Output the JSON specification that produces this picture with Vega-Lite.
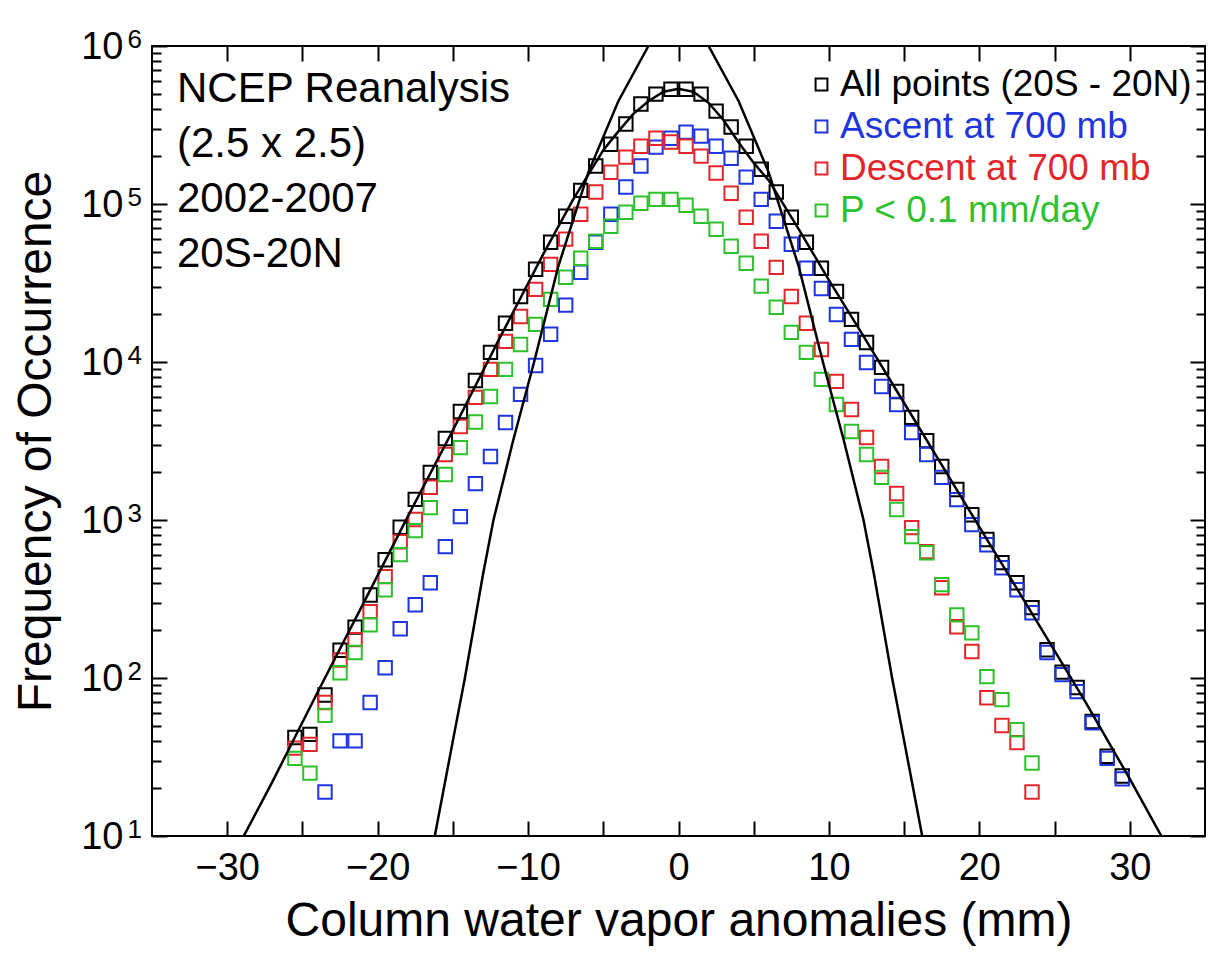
{
"$schema": "https://vega.github.io/schema/vega-lite/v6.json",
"width": 1053, "height": 790,
"autosize": {"type": "none"},
"padding": {"left": 152, "top": 46, "right": 8, "bottom": 120},
"background": "white",
"config": {
  "font": "Liberation Sans",
  "view": {"stroke": "black", "strokeWidth": 2},
  "axis": {"grid": false, "domain": false, "tickColor": "black", "tickWidth": 2, "labelColor": "black", "titleColor": "black", "labelFont": "Liberation Sans", "titleFont": "Liberation Sans", "titleFontWeight": "normal", "labelOverlap": false, "labelFlush": false},
  "legend": {"title": null, "symbolType": "square", "symbolSize": 140, "symbolStrokeWidth": 2, "labelFontSize": 37, "labelFont": "Liberation Sans", "rowPadding": 4, "labelOffset": 0, "padding": 0, "labelLimit": 0}
},
"title": {"text": ["NCEP Reanalysis", "(2.5 x 2.5)", "2002-2007", "20S-20N"], "anchor": "start", "frame": "group", "orient": "top", "baseline": "top", "fontSize": 42, "fontWeight": "normal", "lineHeight": 55, "dx": 25, "dy": 250, "offset": 0, "color": "black", "font": "Liberation Sans"},
"datasets": {
"pts": [
{"x":-25.5,"n":42,"s":"All points (20S - 20N)"},{"x":-24.5,"n":44,"s":"All points (20S - 20N)"},{"x":-23.5,"n":78,"s":"All points (20S - 20N)"},{"x":-22.5,"n":150,"s":"All points (20S - 20N)"},{"x":-21.5,"n":210,"s":"All points (20S - 20N)"},{"x":-20.5,"n":335,"s":"All points (20S - 20N)"},{"x":-19.5,"n":560,"s":"All points (20S - 20N)"},{"x":-18.5,"n":900,"s":"All points (20S - 20N)"},{"x":-17.5,"n":1350,"s":"All points (20S - 20N)"},{"x":-16.5,"n":2000,"s":"All points (20S - 20N)"},{"x":-15.5,"n":3280,"s":"All points (20S - 20N)"},{"x":-14.5,"n":4860,"s":"All points (20S - 20N)"},{"x":-13.5,"n":7640,"s":"All points (20S - 20N)"},{"x":-12.5,"n":11500,"s":"All points (20S - 20N)"},{"x":-11.5,"n":17600,"s":"All points (20S - 20N)"},{"x":-10.5,"n":26000,"s":"All points (20S - 20N)"},{"x":-9.5,"n":38600,"s":"All points (20S - 20N)"},{"x":-8.5,"n":57300,"s":"All points (20S - 20N)"},{"x":-7.5,"n":83700,"s":"All points (20S - 20N)"},{"x":-6.5,"n":122000,"s":"All points (20S - 20N)"},{"x":-5.5,"n":174000,"s":"All points (20S - 20N)"},{"x":-4.5,"n":239000,"s":"All points (20S - 20N)"},{"x":-3.5,"n":321000,"s":"All points (20S - 20N)"},{"x":-2.5,"n":429000,"s":"All points (20S - 20N)"},{"x":-1.5,"n":496000,"s":"All points (20S - 20N)"},{"x":-0.5,"n":533000,"s":"All points (20S - 20N)"},{"x":0.5,"n":533000,"s":"All points (20S - 20N)"},{"x":1.5,"n":496000,"s":"All points (20S - 20N)"},{"x":2.5,"n":387000,"s":"All points (20S - 20N)"},{"x":3.5,"n":307000,"s":"All points (20S - 20N)"},{"x":4.5,"n":232000,"s":"All points (20S - 20N)"},{"x":5.5,"n":166000,"s":"All points (20S - 20N)"},{"x":6.5,"n":119000,"s":"All points (20S - 20N)"},{"x":7.5,"n":82400,"s":"All points (20S - 20N)"},{"x":8.5,"n":57300,"s":"All points (20S - 20N)"},{"x":9.5,"n":39200,"s":"All points (20S - 20N)"},{"x":10.5,"n":28000,"s":"All points (20S - 20N)"},{"x":11.5,"n":18600,"s":"All points (20S - 20N)"},{"x":12.5,"n":13300,"s":"All points (20S - 20N)"},{"x":13.5,"n":9250,"s":"All points (20S - 20N)"},{"x":14.5,"n":6510,"s":"All points (20S - 20N)"},{"x":15.5,"n":4460,"s":"All points (20S - 20N)"},{"x":16.5,"n":3180,"s":"All points (20S - 20N)"},{"x":17.5,"n":2180,"s":"All points (20S - 20N)"},{"x":18.5,"n":1560,"s":"All points (20S - 20N)"},{"x":19.5,"n":1080,"s":"All points (20S - 20N)"},{"x":20.5,"n":752,"s":"All points (20S - 20N)"},{"x":21.5,"n":537,"s":"All points (20S - 20N)"},{"x":22.5,"n":401,"s":"All points (20S - 20N)"},{"x":23.5,"n":279,"s":"All points (20S - 20N)"},{"x":24.5,"n":151,"s":"All points (20S - 20N)"},{"x":25.5,"n":109,"s":"All points (20S - 20N)"},{"x":26.5,"n":87,"s":"All points (20S - 20N)"},{"x":27.5,"n":53,"s":"All points (20S - 20N)"},{"x":28.5,"n":32,"s":"All points (20S - 20N)"},{"x":29.5,"n":24,"s":"All points (20S - 20N)"},
{"x":-25.5,"n":36,"s":"Descent at 700 mb"},{"x":-24.5,"n":38,"s":"Descent at 700 mb"},{"x":-23.5,"n":70,"s":"Descent at 700 mb"},{"x":-22.5,"n":130,"s":"Descent at 700 mb"},{"x":-21.5,"n":175,"s":"Descent at 700 mb"},{"x":-20.5,"n":263,"s":"Descent at 700 mb"},{"x":-19.5,"n":438,"s":"Descent at 700 mb"},{"x":-18.5,"n":729,"s":"Descent at 700 mb"},{"x":-17.5,"n":1007,"s":"Descent at 700 mb"},{"x":-16.5,"n":1610,"s":"Descent at 700 mb"},{"x":-15.5,"n":2600,"s":"Descent at 700 mb"},{"x":-14.5,"n":3910,"s":"Descent at 700 mb"},{"x":-13.5,"n":5970,"s":"Descent at 700 mb"},{"x":-12.5,"n":8980,"s":"Descent at 700 mb"},{"x":-11.5,"n":13500,"s":"Descent at 700 mb"},{"x":-10.5,"n":19400,"s":"Descent at 700 mb"},{"x":-9.5,"n":28800,"s":"Descent at 700 mb"},{"x":-8.5,"n":41500,"s":"Descent at 700 mb"},{"x":-7.5,"n":59900,"s":"Descent at 700 mb"},{"x":-6.5,"n":86100,"s":"Descent at 700 mb"},{"x":-5.5,"n":119000,"s":"Descent at 700 mb"},{"x":-4.5,"n":159000,"s":"Descent at 700 mb"},{"x":-3.5,"n":198000,"s":"Descent at 700 mb"},{"x":-2.5,"n":232000,"s":"Descent at 700 mb"},{"x":-1.5,"n":261000,"s":"Descent at 700 mb"},{"x":-0.5,"n":247000,"s":"Descent at 700 mb"},{"x":0.5,"n":232000,"s":"Descent at 700 mb"},{"x":1.5,"n":201000,"s":"Descent at 700 mb"},{"x":2.5,"n":157000,"s":"Descent at 700 mb"},{"x":3.5,"n":117000,"s":"Descent at 700 mb"},{"x":4.5,"n":82400,"s":"Descent at 700 mb"},{"x":5.5,"n":58100,"s":"Descent at 700 mb"},{"x":6.5,"n":39700,"s":"Descent at 700 mb"},{"x":7.5,"n":26000,"s":"Descent at 700 mb"},{"x":8.5,"n":17600,"s":"Descent at 700 mb"},{"x":9.5,"n":12000,"s":"Descent at 700 mb"},{"x":10.5,"n":7540,"s":"Descent at 700 mb"},{"x":11.5,"n":5010,"s":"Descent at 700 mb"},{"x":12.5,"n":3330,"s":"Descent at 700 mb"},{"x":13.5,"n":2180,"s":"Descent at 700 mb"},{"x":14.5,"n":1470,"s":"Descent at 700 mb"},{"x":15.5,"n":895,"s":"Descent at 700 mb"},{"x":16.5,"n":631,"s":"Descent at 700 mb"},{"x":17.5,"n":373,"s":"Descent at 700 mb"},{"x":18.5,"n":211,"s":"Descent at 700 mb"},{"x":19.5,"n":147,"s":"Descent at 700 mb"},{"x":20.5,"n":75,"s":"Descent at 700 mb"},{"x":21.5,"n":50,"s":"Descent at 700 mb"},{"x":22.5,"n":39,"s":"Descent at 700 mb"},{"x":23.5,"n":19,"s":"Descent at 700 mb"},
{"x":-25.5,"n":31,"s":"P < 0.1 mm/day"},{"x":-24.5,"n":25,"s":"P < 0.1 mm/day"},{"x":-23.5,"n":58,"s":"P < 0.1 mm/day"},{"x":-22.5,"n":108,"s":"P < 0.1 mm/day"},{"x":-21.5,"n":145,"s":"P < 0.1 mm/day"},{"x":-20.5,"n":217,"s":"P < 0.1 mm/day"},{"x":-19.5,"n":362,"s":"P < 0.1 mm/day"},{"x":-18.5,"n":604,"s":"P < 0.1 mm/day"},{"x":-17.5,"n":857,"s":"P < 0.1 mm/day"},{"x":-16.5,"n":1197,"s":"P < 0.1 mm/day"},{"x":-15.5,"n":1940,"s":"P < 0.1 mm/day"},{"x":-14.5,"n":2870,"s":"P < 0.1 mm/day"},{"x":-13.5,"n":4170,"s":"P < 0.1 mm/day"},{"x":-12.5,"n":6050,"s":"P < 0.1 mm/day"},{"x":-11.5,"n":8980,"s":"P < 0.1 mm/day"},{"x":-10.5,"n":12900,"s":"P < 0.1 mm/day"},{"x":-9.5,"n":17300,"s":"P < 0.1 mm/day"},{"x":-8.5,"n":24900,"s":"P < 0.1 mm/day"},{"x":-7.5,"n":34400,"s":"P < 0.1 mm/day"},{"x":-6.5,"n":45400,"s":"P < 0.1 mm/day"},{"x":-5.5,"n":58100,"s":"P < 0.1 mm/day"},{"x":-4.5,"n":72300,"s":"P < 0.1 mm/day"},{"x":-3.5,"n":88700,"s":"P < 0.1 mm/day"},{"x":-2.5,"n":101000,"s":"P < 0.1 mm/day"},{"x":-1.5,"n":107000,"s":"P < 0.1 mm/day"},{"x":-0.5,"n":107000,"s":"P < 0.1 mm/day"},{"x":0.5,"n":98100,"s":"P < 0.1 mm/day"},{"x":1.5,"n":83700,"s":"P < 0.1 mm/day"},{"x":2.5,"n":69200,"s":"P < 0.1 mm/day"},{"x":3.5,"n":54000,"s":"P < 0.1 mm/day"},{"x":4.5,"n":42200,"s":"P < 0.1 mm/day"},{"x":5.5,"n":30200,"s":"P < 0.1 mm/day"},{"x":6.5,"n":22200,"s":"P < 0.1 mm/day"},{"x":7.5,"n":15400,"s":"P < 0.1 mm/day"},{"x":8.5,"n":11500,"s":"P < 0.1 mm/day"},{"x":9.5,"n":7760,"s":"P < 0.1 mm/day"},{"x":10.5,"n":5380,"s":"P < 0.1 mm/day"},{"x":11.5,"n":3630,"s":"P < 0.1 mm/day"},{"x":12.5,"n":2600,"s":"P < 0.1 mm/day"},{"x":13.5,"n":1860,"s":"P < 0.1 mm/day"},{"x":14.5,"n":1164,"s":"P < 0.1 mm/day"},{"x":15.5,"n":785,"s":"P < 0.1 mm/day"},{"x":16.5,"n":621,"s":"P < 0.1 mm/day"},{"x":17.5,"n":390,"s":"P < 0.1 mm/day"},{"x":18.5,"n":251,"s":"P < 0.1 mm/day"},{"x":19.5,"n":193,"s":"P < 0.1 mm/day"},{"x":20.5,"n":102,"s":"P < 0.1 mm/day"},{"x":21.5,"n":73,"s":"P < 0.1 mm/day"},{"x":22.5,"n":47,"s":"P < 0.1 mm/day"},{"x":23.5,"n":29,"s":"P < 0.1 mm/day"},
{"x":-23.5,"n":19,"s":"Ascent at 700 mb"},{"x":-22.5,"n":40,"s":"Ascent at 700 mb"},{"x":-21.5,"n":40,"s":"Ascent at 700 mb"},{"x":-20.5,"n":70,"s":"Ascent at 700 mb"},{"x":-19.5,"n":116,"s":"Ascent at 700 mb"},{"x":-18.5,"n":205,"s":"Ascent at 700 mb"},{"x":-17.5,"n":291,"s":"Ascent at 700 mb"},{"x":-16.5,"n":401,"s":"Ascent at 700 mb"},{"x":-15.5,"n":678,"s":"Ascent at 700 mb"},{"x":-14.5,"n":1050,"s":"Ascent at 700 mb"},{"x":-13.5,"n":1700,"s":"Ascent at 700 mb"},{"x":-12.5,"n":2520,"s":"Ascent at 700 mb"},{"x":-11.5,"n":4140,"s":"Ascent at 700 mb"},{"x":-10.5,"n":6240,"s":"Ascent at 700 mb"},{"x":-9.5,"n":9510,"s":"Ascent at 700 mb"},{"x":-8.5,"n":15000,"s":"Ascent at 700 mb"},{"x":-7.5,"n":22900,"s":"Ascent at 700 mb"},{"x":-6.5,"n":37000,"s":"Ascent at 700 mb"},{"x":-5.5,"n":57300,"s":"Ascent at 700 mb"},{"x":-4.5,"n":86100,"s":"Ascent at 700 mb"},{"x":-3.5,"n":128000,"s":"Ascent at 700 mb"},{"x":-2.5,"n":174000,"s":"Ascent at 700 mb"},{"x":-1.5,"n":229000,"s":"Ascent at 700 mb"},{"x":-0.5,"n":261000,"s":"Ascent at 700 mb"},{"x":0.5,"n":285000,"s":"Ascent at 700 mb"},{"x":1.5,"n":269000,"s":"Ascent at 700 mb"},{"x":2.5,"n":232000,"s":"Ascent at 700 mb"},{"x":3.5,"n":195000,"s":"Ascent at 700 mb"},{"x":4.5,"n":148000,"s":"Ascent at 700 mb"},{"x":5.5,"n":107000,"s":"Ascent at 700 mb"},{"x":6.5,"n":77800,"s":"Ascent at 700 mb"},{"x":7.5,"n":55600,"s":"Ascent at 700 mb"},{"x":8.5,"n":39200,"s":"Ascent at 700 mb"},{"x":9.5,"n":29200,"s":"Ascent at 700 mb"},{"x":10.5,"n":20000,"s":"Ascent at 700 mb"},{"x":11.5,"n":13900,"s":"Ascent at 700 mb"},{"x":12.5,"n":9930,"s":"Ascent at 700 mb"},{"x":13.5,"n":7000,"s":"Ascent at 700 mb"},{"x":14.5,"n":5380,"s":"Ascent at 700 mb"},{"x":15.5,"n":3580,"s":"Ascent at 700 mb"},{"x":16.5,"n":2600,"s":"Ascent at 700 mb"},{"x":17.5,"n":1860,"s":"Ascent at 700 mb"},{"x":18.5,"n":1345,"s":"Ascent at 700 mb"},{"x":19.5,"n":935,"s":"Ascent at 700 mb"},{"x":20.5,"n":698,"s":"Ascent at 700 mb"},{"x":21.5,"n":499,"s":"Ascent at 700 mb"},{"x":22.5,"n":362,"s":"Ascent at 700 mb"},{"x":23.5,"n":259,"s":"Ascent at 700 mb"},{"x":24.5,"n":145,"s":"Ascent at 700 mb"},{"x":25.5,"n":105,"s":"Ascent at 700 mb"},{"x":26.5,"n":82,"s":"Ascent at 700 mb"},{"x":27.5,"n":52,"s":"Ascent at 700 mb"},{"x":28.5,"n":31,"s":"Ascent at 700 mb"},{"x":29.5,"n":23,"s":"Ascent at 700 mb"}
],
"fit": [
{"x":-29.5,"n":7.8,"c":"broad"},{"x":-27,"n":22,"c":"broad"},{"x":-24,"n":81,"c":"broad"},{"x":-21,"n":290,"c":"broad"},{"x":-18,"n":1050,"c":"broad"},{"x":-15,"n":3700,"c":"broad"},{"x":-12,"n":13500,"c":"broad"},{"x":-9,"n":48000,"c":"broad"},{"x":-7,"n":107000,"c":"broad"},{"x":-5,"n":219000,"c":"broad"},{"x":-4,"n":288000,"c":"broad"},{"x":-3,"n":372000,"c":"broad"},{"x":-2,"n":447000,"c":"broad"},{"x":-1,"n":513000,"c":"broad"},{"x":0,"n":537000,"c":"broad"},{"x":1,"n":513000,"c":"broad"},{"x":2,"n":437000,"c":"broad"},{"x":3,"n":339000,"c":"broad"},{"x":4,"n":245000,"c":"broad"},{"x":5,"n":182000,"c":"broad"},{"x":6,"n":141000,"c":"broad"},{"x":8,"n":69000,"c":"broad"},{"x":10,"n":33000,"c":"broad"},{"x":12,"n":16200,"c":"broad"},{"x":15,"n":5500,"c":"broad"},{"x":18,"n":1860,"c":"broad"},{"x":21,"n":630,"c":"broad"},{"x":24,"n":214,"c":"broad"},{"x":27,"n":72,"c":"broad"},{"x":30,"n":23,"c":"broad"},{"x":32.1,"n":10,"c":"broad"},{"x":33,"n":7.2,"c":"broad"},
{"x":-16.6,"n":6,"c":"gauss"},{"x":-16.2,"n":10,"c":"gauss"},{"x":-15,"n":40,"c":"gauss"},{"x":-14.2,"n":100,"c":"gauss"},{"x":-13,"n":450,"c":"gauss"},{"x":-12.3,"n":1000,"c":"gauss"},{"x":-11,"n":3160,"c":"gauss"},{"x":-9.6,"n":10000,"c":"gauss"},{"x":-8,"n":40000,"c":"gauss"},{"x":-6,"n":158000,"c":"gauss"},{"x":-4,"n":447000,"c":"gauss"},{"x":-2,"n":1000000,"c":"gauss"},{"x":-1,"n":1200000,"c":"gauss"},{"x":0,"n":1260000,"c":"gauss"},{"x":1,"n":1200000,"c":"gauss"},{"x":2,"n":1000000,"c":"gauss"},{"x":4,"n":447000,"c":"gauss"},{"x":6,"n":158000,"c":"gauss"},{"x":8,"n":40000,"c":"gauss"},{"x":9.6,"n":10000,"c":"gauss"},{"x":11,"n":3160,"c":"gauss"},{"x":12.3,"n":1000,"c":"gauss"},{"x":13,"n":450,"c":"gauss"},{"x":14.2,"n":100,"c":"gauss"},{"x":15,"n":40,"c":"gauss"},{"x":16.2,"n":10,"c":"gauss"},{"x":16.6,"n":6,"c":"gauss"}
]
},
"layer": [
{
 "data": {"name": "pts"},
 "transform": [{"filter": "datum.s === 'All points (20S - 20N)'"}],
 "mark": {"type": "point", "shape": "square", "filled": false, "strokeWidth": 2, "size": 180, "opacity": 1},
 "encoding": {
  "x": {"field": "x", "type": "quantitative", "scale": {"domain": [-35, 35], "nice": false, "zero": false},
        "axis": {"orient": "bottom", "values": [-30,-25,-20,-15,-10,-5,0,5,10,15,20,25,30], "tickSize": -15, "labelPadding": 28, "labelExpr": "datum.value % 10 === 0 ? format(datum.value, 'd') : ''", "labelFontSize": 38, "title": "Column water vapor anomalies (mm)", "titleFontSize": 48, "titlePadding": 10}},
  "y": {"field": "n", "type": "quantitative", "scale": {"type": "log", "domain": [10, 1000000], "nice": false},
        "axis": {"orient": "left", "values": [10,100,1000,10000,100000,1000000], "tickSize": -15, "labelPadding": 44, "labelExpr": "'10'", "labelFontSize": 38, "labelBaseline": "middle", "labelOffset": 1, "title": "Frequency of Occurrence", "titleFontSize": 48, "titlePadding": 20}},
  "color": {"field": "s", "type": "nominal",
        "scale": {"domain": ["All points (20S - 20N)", "Ascent at 700 mb", "Descent at 700 mb", "P < 0.1 mm/day"], "range": ["#000000", "#1f35e0", "#e3262b", "#2ec12e"]},
        "legend": {"orient": "none", "legendX": 651, "legendY": 20, "labelColor": {"expr": "scale('color', datum.value)"}}}
 }
},
{
 "data": {"name": "pts"},
 "transform": [{"filter": "datum.s === 'Ascent at 700 mb'"}],
 "mark": {"type": "point", "shape": "square", "filled": false, "strokeWidth": 2, "size": 180, "opacity": 1},
 "encoding": {
  "x": {"field": "x", "type": "quantitative", "axis": {"orient": "top", "values": [-30,-25,-20,-15,-10,-5,0,5,10,15,20,25,30], "tickSize": -15, "labels": false, "title": null}},
  "y": {"field": "n", "type": "quantitative", "axis": {"orient": "left", "values": [10,100,1000,10000,100000,1000000], "ticks": false, "tickSize": 0, "labelPadding": 25, "labelAlign": "left", "labelBaseline": "middle", "labelExpr": "format(round(log(datum.value)/LN10), 'd')", "labelFontSize": 26, "labelOffset": -7, "title": null}},
  "color": {"field": "s", "type": "nominal", "legend": {"orient": "none", "legendX": 651, "legendY": 20, "labelColor": {"expr": "scale('color', datum.value)"}}}
 }
},
{
 "data": {"name": "pts"},
 "transform": [{"filter": "datum.s === 'Descent at 700 mb' || datum.s === 'P < 0.1 mm/day'"}],
 "mark": {"type": "point", "shape": "square", "filled": false, "strokeWidth": 2, "size": 180, "opacity": 1},
 "encoding": {
  "x": {"field": "x", "type": "quantitative", "axis": null},
  "y": {"field": "n", "type": "quantitative", "axis": {"orient": "left", "values": [20,30,40,50,60,70,80,90,200,300,400,500,600,700,800,900,2000,3000,4000,5000,6000,7000,8000,9000,20000,30000,40000,50000,60000,70000,80000,90000,200000,300000,400000,500000,600000,700000,800000,900000], "tickSize": -9, "labels": false, "title": null}},
  "color": {"field": "s", "type": "nominal", "legend": {"orient": "none", "legendX": 651, "legendY": 20, "labelColor": {"expr": "scale('color', datum.value)"}}}
 }
},
{
 "data": {"name": "fit"},
 "transform": [{"filter": "datum.c === 'broad'"}],
 "mark": {"type": "line", "color": "black", "strokeWidth": 2.5, "clip": true},
 "encoding": {
  "x": {"field": "x", "type": "quantitative", "axis": null},
  "y": {"field": "n", "type": "quantitative", "axis": {"orient": "right", "values": [10,100,1000,10000,100000,1000000], "tickSize": -15, "labels": false, "title": null}}
 }
},
{
 "data": {"name": "fit"},
 "transform": [{"filter": "datum.c === 'gauss'"}],
 "mark": {"type": "line", "color": "black", "strokeWidth": 2.5, "clip": true},
 "encoding": {
  "x": {"field": "x", "type": "quantitative", "axis": null},
  "y": {"field": "n", "type": "quantitative", "axis": {"orient": "right", "values": [20,30,40,50,60,70,80,90,200,300,400,500,600,700,800,900,2000,3000,4000,5000,6000,7000,8000,9000,20000,30000,40000,50000,60000,70000,80000,90000,200000,300000,400000,500000,600000,700000,800000,900000], "tickSize": -9, "labels": false, "title": null}}
 }
}
],
"resolve": {"axis": {"x": "independent", "y": "independent"}}
}
